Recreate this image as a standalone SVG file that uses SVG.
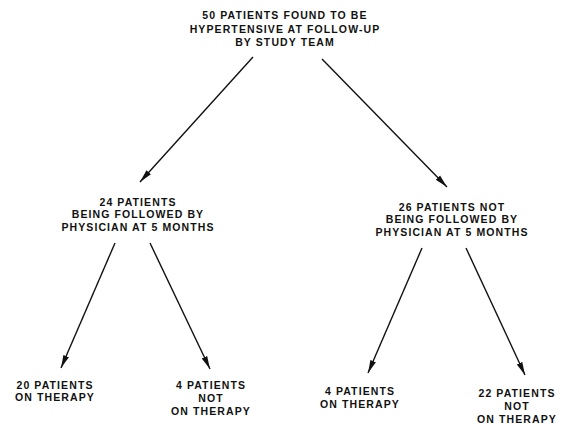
<svg xmlns="http://www.w3.org/2000/svg" width="561" height="425" viewBox="0 0 561 425">
  <style>
    .lbl { font-family: "Liberation Sans", Arial, sans-serif; font-weight: bold; font-size: 10.5px; letter-spacing: 1.1px; fill: #111; text-anchor: middle; }
    .edge { stroke: #111; stroke-width: 1.4; fill: none; marker-end: url(#arrow); }
  </style>
  <defs>
    <marker id="arrow" markerUnits="userSpaceOnUse" markerWidth="14" markerHeight="8" viewBox="0 0 14 8" refX="13" refY="4" orient="auto">
      <path d="M0,1 L13,4 L0,7 Z" fill="#111"/>
    </marker>
  </defs>
  <rect width="561" height="425" fill="#fff"/>

  <g id="connectors">
    <line class="edge" x1="253" y1="57" x2="140" y2="182"/>
    <line class="edge" x1="322" y1="59" x2="447" y2="187"/>
    <line class="edge" x1="115" y1="243" x2="61" y2="368"/>
    <line class="edge" x1="150" y1="243" x2="210" y2="369"/>
    <line class="edge" x1="422" y1="248" x2="368" y2="373"/>
    <line class="edge" x1="466" y1="248" x2="525" y2="375"/>
  </g>

  <g id="hypertensive">
    <text class="lbl" x="285" y="19">50 PATIENTS FOUND TO BE</text>
    <text class="lbl" x="285" y="33">HYPERTENSIVE AT FOLLOW-UP</text>
    <text class="lbl" x="285" y="46">BY STUDY TEAM</text>
  </g>

  <g id="followed">
    <text class="lbl" x="138" y="206">24 PATIENTS</text>
    <text class="lbl" x="138" y="218">BEING FOLLOWED BY</text>
    <text class="lbl" x="138" y="231">PHYSICIAN AT 5 MONTHS</text>
  </g>

  <g id="not-followed">
    <text class="lbl" x="452" y="211">26 PATIENTS NOT</text>
    <text class="lbl" x="452" y="223">BEING FOLLOWED BY</text>
    <text class="lbl" x="452" y="236">PHYSICIAN AT 5 MONTHS</text>
  </g>

  <g id="followed-on-therapy">
    <text class="lbl" x="55" y="389">20 PATIENTS</text>
    <text class="lbl" x="55" y="401">ON THERAPY</text>
  </g>

  <g id="followed-off-therapy">
    <text class="lbl" x="211" y="389">4 PATIENTS</text>
    <text class="lbl" x="211" y="402">NOT</text>
    <text class="lbl" x="211" y="415">ON THERAPY</text>
  </g>

  <g id="not-followed-on-therapy">
    <text class="lbl" x="360" y="395">4 PATIENTS</text>
    <text class="lbl" x="360" y="408">ON THERAPY</text>
  </g>

  <g id="not-followed-off-therapy">
    <text class="lbl" x="517" y="397">22 PATIENTS</text>
    <text class="lbl" x="517" y="410">NOT</text>
    <text class="lbl" x="517" y="423">ON THERAPY</text>
  </g>
</svg>
